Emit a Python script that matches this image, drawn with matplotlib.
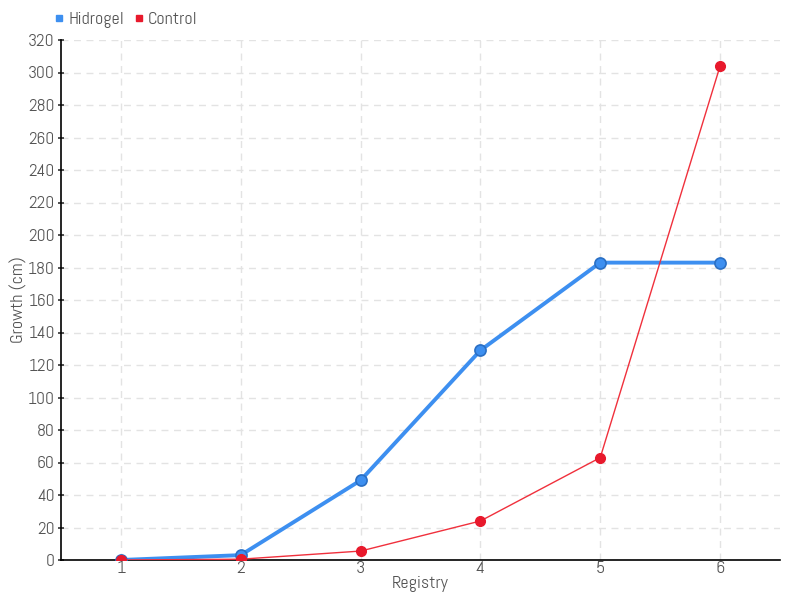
import matplotlib
matplotlib.use("Agg")
import matplotlib.pyplot as plt
from matplotlib.lines import Line2D

registry = [1, 2, 3, 4, 5, 6]
hidrogel = [0, 3, 49, 129, 183, 183]
control = [0, 0.5, 5.5, 24, 63, 304]
yticks = list(range(0, 321, 20))

plt.rcParams['font.family'] = ['Abel', 'DejaVu Sans']
txt = '#555555'

fig = plt.figure(figsize=(8, 6), dpi=100)
ax = fig.add_axes([61/800, 40/600, (780-61)/800, (560-40)/600])

ax.plot(registry, hidrogel, color='#3d8ff0', lw=2.8, marker='o', ms=8,
        mfc='#3d8ff0', mec='#2a6fc4', mew=1.2, zorder=3, label='Hidrogel')
ax.plot(registry, control, color='#f0303c', lw=1, marker='o', ms=7,
        mfc='#e8192c', mec='#e8192c', zorder=4, label='Control')

ax.set_xlim(0.5, 6.5)
ax.set_ylim(0, 320)
ax.set_xticks(registry)
ax.set_yticks(yticks)
ax.grid(True, color='#e3e3e3', ls=(0, (5, 4)), lw=1)
ax.set_axisbelow(True)
for s in ['top', 'right']:
    ax.spines[s].set_visible(False)
for s in ['left', 'bottom']:
    ax.spines[s].set_color('black')
    ax.spines[s].set_linewidth(1.2)
ax.tick_params(axis='y', direction='inout', length=5, width=1.2, color='#333333',
               labelcolor=txt, labelsize=12.5, pad=2)
ax.tick_params(axis='x', length=0, labelcolor=txt, labelsize=13, pad=1)
ax.set_xlabel('Registry', color=txt, fontsize=13, labelpad=-1)
ax.set_ylabel('Growth (cm)', color=txt, fontsize=13, labelpad=0)

handles = [Line2D([], [], ls='', marker='s', ms=5, color='#3d8ff0'),
           Line2D([], [], ls='', marker='s', ms=5, color='#e8192c')]
fig.legend(handles, ['Hidrogel', 'Control'], loc='upper left',
           bbox_to_anchor=(0.045, 1.008), ncol=2, frameon=False,
           handletextpad=0.1, columnspacing=0.4, handlelength=0.8,
           labelcolor=txt, fontsize=13)

fig.savefig('out.png', dpi=100)
